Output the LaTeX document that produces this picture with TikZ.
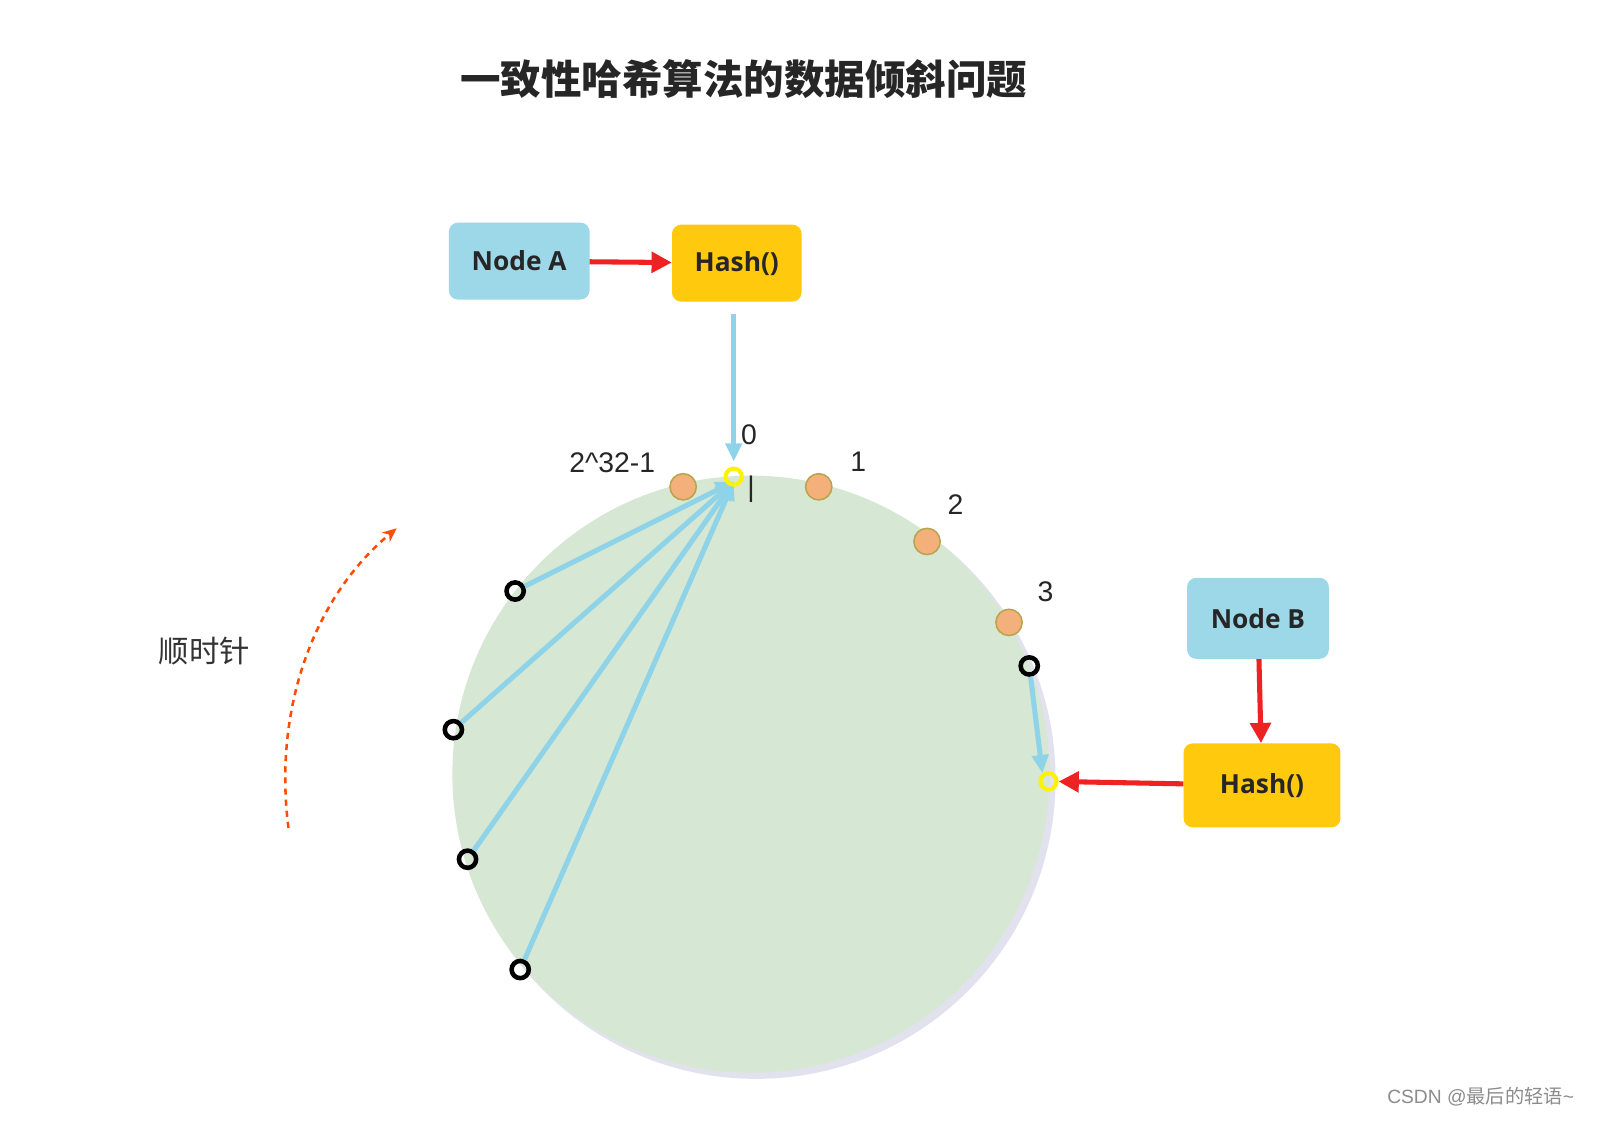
\documentclass[tikz,border=0pt]{standalone}
\usepackage{fontspec}
\setmainfont{Open Sans}
\newfontfamily\cjk{Noto Sans CJK SC}
\newfontfamily\lsans{Liberation Sans}
\usetikzlibrary{arrows.meta,shadows}
\definecolor{nblue}{HTML}{9DD8E8}
\definecolor{nyel}{HTML}{FFC90E}
\definecolor{ring}{HTML}{D6E7D3}
\definecolor{dot}{HTML}{F4B07A}
\definecolor{dotb}{HTML}{B9A44C}
\definecolor{ablue}{HTML}{8FD3E8}
\definecolor{ared}{HTML}{EE2222}
\tikzset{
 box/.style={rounded corners=9pt,inner sep=0pt,font=\bfseries\fontsize{26}{30}\selectfont,text=black!85},
 odot/.style={circle,fill=dot,draw=dotb,line width=1.5pt,minimum size=26pt,inner sep=0pt},
 yring/.style={circle,draw=yellow,line width=4pt,minimum size=16pt,inner sep=0pt},
 bring/.style={circle,draw=black,line width=4.5pt,minimum size=17pt,inner sep=0pt},
 barr/.style={draw=ablue,line width=5pt,-{Triangle[length=18pt,width=16pt]}},
 rarr/.style={draw=ared,line width=5pt,-{Triangle[length=20pt,width=20pt]}},
 lab/.style={font=\lsans\fontsize{28}{30}\selectfont,text=black!85}
}
\begin{document}
\begin{tikzpicture}[x=1pt,y=-1pt]
\useasboundingbox[fill=white] (0,0) rectangle (1578,1110);
\fill[blue!25!gray!18] (747,770) circle (296);
\fill[ring] (742,765) circle (295);
\node[font=\cjk\bfseries\fontsize{40}{44}\selectfont,text=black!85] (t) at (735,78) {一致性哈希算法的数据倾斜问题};
\node[box,fill=nblue,minimum width=139pt,minimum height=76pt] (na) at (513,258) {Node A};
\node[box,fill=nyel,minimum width=128pt,minimum height=76pt] (ha) at (728,260) {Hash()};
\node[box,fill=nblue,minimum width=140pt,minimum height=80pt] (nb) at (1243,611) {Node B};
\node[box,fill=nyel,minimum width=155pt,minimum height=83pt] (hb) at (1247,776) {Hash()};
\node[odot] (d0) at (675,481) {};
\node[odot] (d1) at (809,481) {};
\node[odot] (d2) at (916,535) {};
\node[odot] (d3) at (997,615) {};
\node[lab] (l0) at (740,430) {0};
\node[lab] (l1) at (848,456) {1};
\node[lab] (l2) at (944,499) {2};
\node[lab] (l3) at (1033,585) {3};
\node[lab] (lm) at (605,457) {2\^{}32-1};
\node[lab] (bar) at (742,483) {|};
\node[bring] (b1) at (509,584) {};
\node[bring] (b2) at (448,721) {};
\node[bring] (b3) at (462,849) {};
\node[bring] (b4) at (514,958) {};
\node[bring] (b5) at (1017,658) {};
\coordinate (ta) at (725,476);
\coordinate (tb) at (1030,764);
\draw[barr] (b1) -- (ta);
\draw[barr] (b2) -- (ta);
\draw[barr] (b3) -- (ta);
\draw[barr] (b4) -- (ta);
\draw[barr] (b5) -- (tb);
\coordinate (hs) at (725,310);
\coordinate (he) at (725,456);
\draw[barr] (hs) -- (he);
\node[yring] (ya) at (725,471) {};
\node[yring] (yb) at (1036,772) {};
\draw[rarr] (na) -- (ha);
\draw[rarr] (nb) -- (hb);
\draw[rarr] (hb) -- (yb);
\coordinate (cs) at (285,818);
\coordinate (ce) at (392,522);
\draw[draw=orange!60!red,line width=2.5pt,dashed,dash pattern=on 6pt off 5pt,-{Stealth[length=14pt,width=12pt]}] (cs) .. controls (270,700) and (310,590) .. (ce);
\node[font=\cjk\fontsize{30}{34}\selectfont,text=black!80] (cw) at (202,643) {顺时针};
\node[font=\lsans\fontsize{19}{22}\selectfont,text=black!45] (wm) at (1463,1084) {CSDN @{\cjk 最后的轻语}\textasciitilde};
\end{tikzpicture}
\end{document}
